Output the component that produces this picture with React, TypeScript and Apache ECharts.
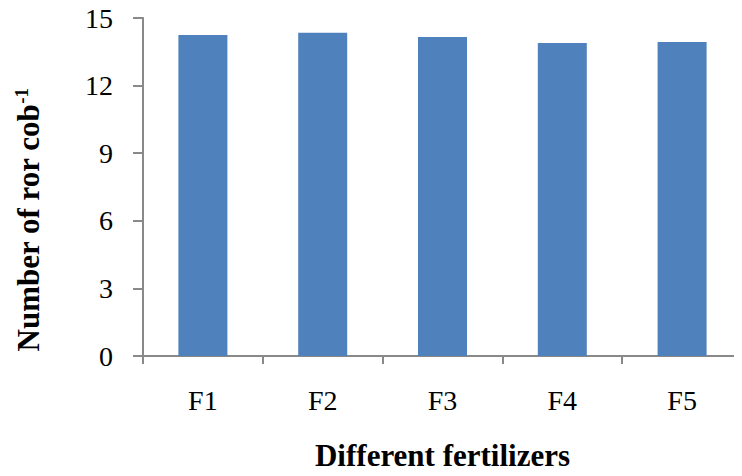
import React, { useEffect, useRef } from "react";
import * as echarts from "echarts";

// Fertilizer treatments and mean number of rows per cob
const categories = ["F1", "F2", "F3", "F4", "F5"];
const rowsPerCob = [14.25, 14.34, 14.16, 13.89, 13.94];
const yTicks = { min: 0, max: 15, interval: 3 };

const serif = "'Liberation Serif', 'Times New Roman', serif";
const axisGray = "#898989";

export default function App() {
  const ref = useRef<HTMLDivElement>(null);

  useEffect(() => {
    if (!ref.current) return;
    const chart = echarts.init(ref.current, undefined, { renderer: "svg" });
    chart.setOption({
      animation: false,
      backgroundColor: "#ffffff",
      grid: { left: 143, right: -9, top: 18, bottom: 120, containLabel: false },
      xAxis: {
        type: "category",
        data: categories,
        name: "Different fertilizers",
        nameLocation: "middle",
        nameGap: 84,
        nameTextStyle: { fontFamily: serif, fontSize: 31, fontWeight: "bold", color: "#000" },
        axisLine: { lineStyle: { color: axisGray, width: 2 } },
        axisTick: { show: true, length: 8, lineStyle: { color: axisGray, width: 2 } },
        axisLabel: { fontFamily: serif, fontSize: 28, color: "#000", margin: 30 },
        splitLine: { show: false },
      },
      yAxis: {
        type: "value",
        min: yTicks.min,
        max: yTicks.max,
        interval: yTicks.interval,
        axisLine: { show: true, lineStyle: { color: axisGray, width: 2 } },
        axisTick: { show: true, length: 10, lineStyle: { color: axisGray, width: 2 } },
        axisLabel: { fontFamily: serif, fontSize: 28, color: "#000", margin: 30 },
        splitLine: { show: false },
      },
      graphic: [
        {
          type: "text",
          x: 28,
          y: 220,
          rotation: Math.PI / 2,
          style: {
            text: "{a|Number of ror cob}{s|-1}",
            textAlign: "center",
            textVerticalAlign: "middle",
            rich: {
              a: { fontFamily: serif, fontSize: 31, fontWeight: "bold", fill: "#000" },
              s: {
                fontFamily: serif,
                fontSize: 19,
                fontWeight: "bold",
                fill: "#000",
                verticalAlign: "top",
                padding: [0, 0, 14, 0],
              },
            },
          },
        },
      ],
      series: [
        {
          type: "bar",
          data: rowsPerCob,
          barWidth: 49,
          itemStyle: { color: "#4F81BD" },
        },
      ],
    });
    return () => chart.dispose();
  }, []);

  return <div ref={ref} style={{ width: 742, height: 476, margin: -8 }} />;
}
